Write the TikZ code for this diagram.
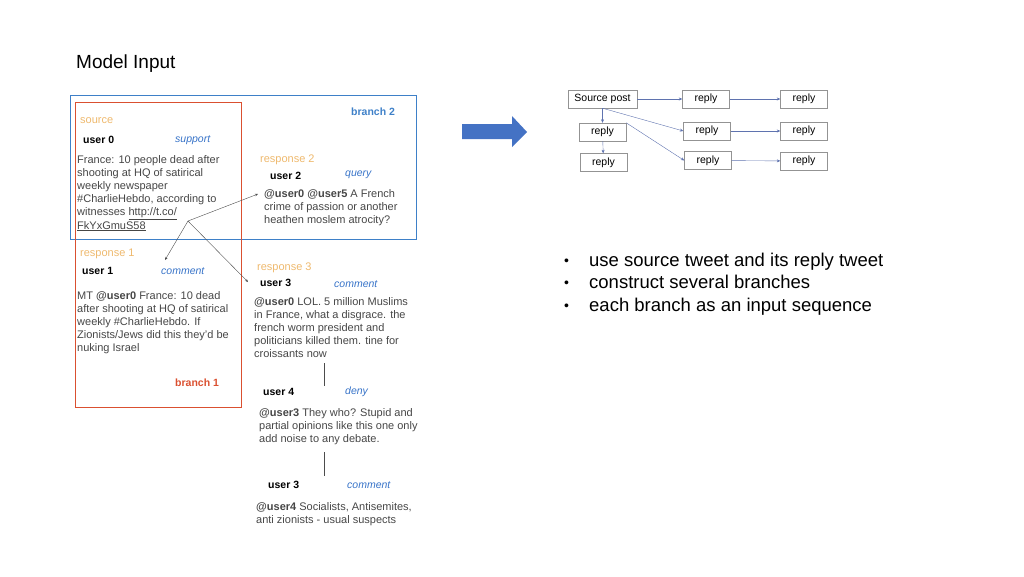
\documentclass[tikz,border=0pt]{standalone}
\usepackage{fontspec}
\setmainfont{Liberation Sans}
\usetikzlibrary{arrows.meta,positioning}
\definecolor{brblue}{RGB}{62,128,200}
\definecolor{brred}{RGB}{218,80,48}
\definecolor{srcorange}{RGB}{238,185,110}
\definecolor{lblblue}{RGB}{55,115,200}
\definecolor{txtgray}{RGB}{70,70,70}
\definecolor{arrblue}{RGB}{68,114,196}
\definecolor{linkblue}{RGB}{95,115,175}
\tikzset{
  tweet/.style={font=\fontsize{11}{13.2}\selectfont, text=txtgray, align=left, inner sep=0, anchor=north west},
  user/.style={font=\fontsize{10.5}{12}\selectfont\bfseries, inner sep=0, anchor=west},
  stance/.style={font=\fontsize{10.5}{12}\selectfont\itshape, text=lblblue, inner sep=0, anchor=west},
  resp/.style={font=\fontsize{11}{12}\selectfont, text=srcorange, inner sep=0, anchor=west},
  brlabel/.style={font=\fontsize{10.5}{12}\selectfont\bfseries, inner sep=0, anchor=west},
  postbox/.style={draw=gray!85, font=\fontsize{10.5}{11}\selectfont, minimum height=18, minimum width=47, inner sep=0},
  link/.style={draw=linkblue, -{Stealth[length=3.5pt,width=3pt]}},
  thread/.style={draw=black!70, -{Stealth[length=3pt,width=2.5pt]}},
  bullet/.style={font=\fontsize{18.5}{22}\selectfont, inner sep=0, anchor=base west},
  dot/.style={font=\fontsize{14}{16}\selectfont, inner sep=0, anchor=base west}
}
\begin{document}
\begin{tikzpicture}[x=1pt,y=-1pt]
\useasboundingbox (0,0) rectangle (1024,576);
\node[bullet,font=\fontsize{19}{22}\selectfont] (title) at (76,68) {Model Input};

% branches
\draw[brblue,thick] (70,95) rectangle (416,239);
\draw[brred,thick] (75,102) rectangle (241,407);
\node[brlabel,text=brblue] (br2) at (351,112) {branch 2};
\node[brlabel,text=brred] (br1) at (175,383) {branch 1};

% source
\node[resp] (src) at (80,121) {source};
\node[user] (u0) at (83,140) {user 0};
\node[stance] (s0) at (175,140) {support};
\node[tweet] (t0) at (77,155) {France: 10 people dead after\\shooting at HQ of satirical\\weekly newspaper\\\#CharlieHebdo, according to\\witnesses \underline{http://t.co/}\\\underline{FkYxGmuS58}};

% response 2
\node[resp] (r2) at (260,160) {response 2};
\node[user] (u2) at (270,176) {user 2};
\node[stance] (s2) at (345,175) {query};
\node[tweet] (t2) at (264,189) {\textbf{@user0 @user5} A French\\crime of passion or another\\heathen moslem atrocity?};

% response 1
\node[resp] (r1) at (80,254) {response 1};
\node[user] (u1) at (82,271) {user 1};
\node[stance] (s1) at (161,271) {comment};
\node[tweet] (t1) at (77,291) {MT \textbf{@user0} France: 10 dead\\after shooting at HQ of satirical\\weekly \#CharlieHebdo. If\\Zionists/Jews did this they'd be\\nuking Israel};

% response 3
\node[resp] (r3) at (257,268) {response 3};
\node[user] (u3) at (260,283) {user 3};
\node[stance] (s3) at (334,284) {comment};
\node[tweet] (t3) at (254,297) {\textbf{@user0} LOL. 5 million Muslims\\in France, what a disgrace. the\\french worm president and\\politicians killed them. tine for\\croissants now};

\node[user] (u4) at (263,392) {user 4};
\node[stance] (s4) at (345,392) {deny};
\node[tweet] (t4) at (259,408) {\textbf{@user3} They who? Stupid and\\partial opinions like this one only\\add noise to any debate.};

\node[user] (u5) at (268,485) {user 3};
\node[stance] (s5) at (347,485) {comment};
\node[tweet] (t5) at (256,502) {\textbf{@user4} Socialists, Antisemites,\\anti zionists - usual suspects};

% reply links
\coordinate (hub) at (188,221);
\coordinate (to2) at (258,194);
\coordinate (to1) at (165,260);
\coordinate (to3) at (248,282);
\draw[thread] (hub) -- (to2);
\draw[thread] (hub) -- (to1);
\draw[thread] (hub) -- (to3);
\coordinate (a3) at (324,363);
\coordinate (b3) at (324,386);
\coordinate (a4) at (324,452);
\coordinate (b4) at (324,476);
\draw[black!70] (a3) -- (b3);
\draw[black!70] (a4) -- (b4);

% big arrow
\fill[arrblue] (462,124) -- (512,124) -- (512,116) -- (527,132) -- (512,147) -- (512,139) -- (462,139) -- cycle;

% tree of posts
\node[postbox,minimum width=69] (sp) at (602.5,99) {Source post};
\node[postbox] (m1) at (706,99) {reply};
\node[postbox] (f1) at (804,99) {reply};
\node[postbox] (l2) at (602.5,132) {reply};
\node[postbox] (m2) at (707,131) {reply};
\node[postbox] (f2) at (804,131) {reply};
\node[postbox] (l3) at (603.5,162.5) {reply};
\node[postbox] (m3) at (708,160.5) {reply};
\node[postbox] (f3) at (804,161) {reply};
\draw[link] (sp) -- (m1);
\draw[link] (m1) -- (f1);
\draw[link] (sp.south) -- (m2.west);
\draw[link] (sp.south) -- (l2.north);
\draw[link] (l2) -- (l3);
\draw[link] (l2.north east) -- (m3.west);
\draw[link] (m2) -- (f2);
\draw[link] (m3) -- (f3);

% bullets
\node[dot] (d1) at (564,265) {\textbullet};
\node[bullet] (b1) at (589,266) {use source tweet and its reply tweet};
\node[dot] (d2) at (564,287) {\textbullet};
\node[bullet] (b2) at (589,288) {construct several branches};
\node[dot] (d3) at (564,310) {\textbullet};
\node[bullet] (b3) at (589,311) {each branch as an input sequence};
\end{tikzpicture}
\end{document}
